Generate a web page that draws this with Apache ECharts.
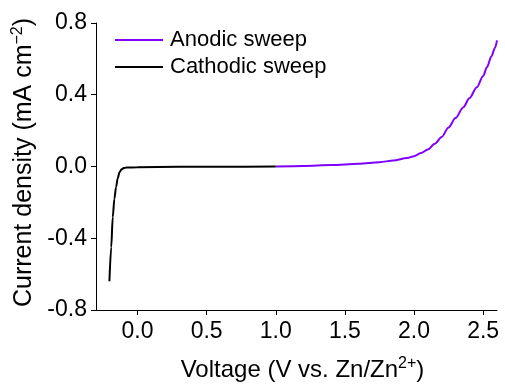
<!DOCTYPE html>
<html>
<head>
<meta charset="utf-8">
<script src="https://cdn.jsdelivr.net/npm/echarts@6/dist/echarts.min.js"></script>
<style>
  html, body { margin: 0; padding: 0; background: #fff; }
  #chart { width: 505px; height: 385px; }
</style>
</head>
<body>
<div id="chart"></div>
<script>
// cathodic sweep (black)
const cathodicV = [-0.203, -0.19, -0.179, -0.167, -0.155, -0.143, -0.13, -0.115, -0.1, -0.08, 0.0, 0.3, 0.6, 1.0];
const cathodicJ = [-0.64, -0.45, -0.283, -0.18, -0.115, -0.065, -0.032, -0.016, -0.009, -0.006, -0.004, -0.002, -0.001, 0.0];

// anodic sweep (purple)
const anodicV = [1.0, 1.2, 1.4, 1.6, 1.75, 1.85, 1.95, 2.0, 2.05, 2.1, 2.15, 2.2, 2.25, 2.3, 2.357, 2.4, 2.454, 2.5, 2.527, 2.56, 2.585, 2.6];
const anodicJ = [0.0, 0.003, 0.008, 0.015, 0.024, 0.033, 0.047, 0.057, 0.075, 0.095, 0.127, 0.165, 0.218, 0.27, 0.331, 0.38, 0.442, 0.505, 0.553, 0.615, 0.66, 0.703];

const xTicks = [0.0, 0.5, 1.0, 1.5, 2.0, 2.5];

const font = 'Liberation Sans, Arial, sans-serif';
const chart = echarts.init(document.getElementById('chart'));

const toPairs = (xs, ys) => xs.map((x, i) => [x, ys[i]]);

const supStyle = { fontFamily: font, fontSize: 16, color: '#000', verticalAlign: 'top', padding: [0, 0, 12, 0] };

chart.setOption({
  animation: false,
  grid: { left: 96, right: 8, top: 23, bottom: 75, outerBoundsMode: 'none' },
  legend: {
    orient: 'vertical',
    left: 110,
    top: 24,
    itemWidth: 48,
    itemHeight: 2,
    itemGap: 5,
    icon: 'rect',
    data: ['Anodic sweep', 'Cathodic sweep'],
    textStyle: { fontFamily: font, fontSize: 22, color: '#000', lineHeight: 22, padding: [0, 0, 0, 2] }
  },
  xAxis: {
    type: 'value',
    min: -0.3,
    max: 2.6,
    name: 'Voltage (V vs. Zn/Zn{sup|2+})',
    nameLocation: 'middle',
    nameGap: 46,
    nameTextStyle: {
      fontFamily: font, fontSize: 24, color: '#000', padding: [0, 0, 0, 12],
      rich: { sup: supStyle }
    },
    axisLine: { show: true, onZero: false, lineStyle: { color: '#000', width: 1 } },
    axisTick: { show: true, length: 5, customValues: xTicks, lineStyle: { color: '#000' } },
    axisLabel: {
      customValues: xTicks,
      fontFamily: font, fontSize: 23, color: '#000', margin: 10,
      formatter: v => v.toFixed(1)
    },
    splitLine: { show: false }
  },
  yAxis: {
    type: 'value',
    min: -0.8,
    max: 0.8,
    interval: 0.4,
    name: 'Current density (mA cm{sup|−2})',
    nameLocation: 'middle',
    nameGap: 58,
    nameTextStyle: {
      fontFamily: font, fontSize: 25, color: '#000', padding: [0, 0, 0, 8],
      rich: { sup: supStyle }
    },
    axisLine: { show: true, onZero: false, lineStyle: { color: '#000', width: 1 } },
    axisTick: { show: true, length: 5, lineStyle: { color: '#000' } },
    axisLabel: {
      fontFamily: font, fontSize: 23, color: '#000', margin: 9,
      formatter: v => v.toFixed(1)
    },
    splitLine: { show: false }
  },
  series: [
    {
      name: 'Anodic sweep',
      type: 'line',
      data: toPairs(anodicV, anodicJ),
      showSymbol: false,
      smooth: 0.3,
      smoothMonotone: 'x',
      itemStyle: { color: '#7f00ff' },
      lineStyle: { color: '#7f00ff', width: 2 }
    },
    {
      name: 'Cathodic sweep',
      type: 'line',
      data: toPairs(cathodicV, cathodicJ),
      showSymbol: false,
      smooth: 0.3,
      smoothMonotone: 'x',
      itemStyle: { color: '#000' },
      lineStyle: { color: '#000', width: 2 }
    }
  ]
});
</script>
</body>
</html>
